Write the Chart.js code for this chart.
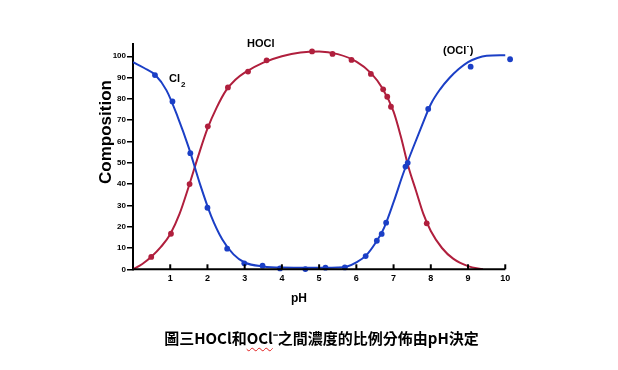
<!DOCTYPE html>
<html>
<head>
<meta charset="utf-8">
<script src="https://cdn.jsdelivr.net/npm/chart.js@4/dist/chart.umd.min.js"></script>
<style>
  body { margin: 0; background: #fff; }
  #wrap { position: relative; width: 618px; height: 370px; }
  #caption {
    position: absolute; left: 0; top: 328px; width: 643px;
    text-align: center; font: bold 15px "Noto Sans CJK TC", sans-serif;
    line-height: 20px; color: #000;
  }
  .sq { text-decoration: underline wavy #e02020; text-decoration-thickness: 1px; text-underline-offset: 3px; }
</style>
</head>
<body>
<div id="wrap">
  <canvas id="chart" width="618" height="370"></canvas>
  <div id="caption">圖三HOCl和<span class="sq">OCl</span>⁻之間濃度的比例分佈由pH決定</div>
</div>
<script>
const BLUE = '#1b3fc6';
const RED = '#b01f3d';

// smooth curves: [pH, %]
const cl2Curve = [[0, 97.2], [0.3, 94.5], [0.6, 91.2], [0.9, 84], [1.2, 71.6], [1.5, 57], [1.8, 40],
  [2.1, 25], [2.4, 14], [2.7, 7], [3.0, 3.2], [3.5, 1.3], [4.0, 0.8], [5.0, 0.7]];
const hoclCurve = [[0, 0], [0.25, 2.5], [0.5, 6], [0.75, 10.5], [1.0, 16.5], [1.25, 26], [1.5, 39],
  [1.75, 53], [2.0, 66], [2.25, 76], [2.5, 84], [2.75, 89], [3.0, 92.3], [3.5, 97], [4.0, 100],
  [4.5, 101.8], [5.0, 102.3], [5.5, 101], [6.0, 97.5], [6.4, 92], [6.7, 85], [7.0, 74], [7.2, 62],
  [7.4, 48], [7.6, 37], [7.8, 26], [8.0, 18], [8.3, 10], [8.6, 5], [9.0, 1.5], [9.4, 0]];
const oclCurve = [[5.0, 0.7], [5.5, 0.8], [5.75, 1.3], [6.0, 3.3], [6.25, 6.3], [6.5, 12], [6.75, 19.7],
  [7.0, 31.5], [7.25, 44.5], [7.5, 56], [7.75, 67], [8.0, 77.5], [8.25, 84.5], [8.5, 89.8],
  [8.75, 94], [9.0, 97.3], [9.25, 99.2], [9.5, 100.2], [10.0, 100.5]];

// measured points
const cl2Dots = [[0.59, 91.2], [1.06, 78.8], [1.54, 54.5], [2.0, 28.9], [2.53, 9.7], [2.99, 2.8],
  [3.48, 1.7], [3.95, 0.4], [4.63, 0.1]];
const hoclDots = [[0.49, 5.8], [1.02, 16.7], [1.52, 40], [2.01, 67.1], [2.55, 85.4], [3.09, 92.8],
  [3.59, 98.1], [4.81, 102.3], [5.36, 101.1], [5.87, 98.3], [6.39, 91.7], [6.72, 84.5],
  [6.83, 81], [6.93, 76.3], [7.89, 21.6]];
const oclDots = [[5.17, 0.75], [5.69, 0.9], [6.25, 6.2], [6.55, 13.4], [6.68, 16.6], [6.8, 21.9],
  [7.32, 48.2], [7.38, 50], [7.93, 75.3], [9.07, 95.1], [10.13, 98.6]];

const xTicks = [1, 2, 3, 4, 5, 6, 7, 8, 9, 10];
const X_END = 10; // axis line stops at pH 10, the scale runs a bit further so the last dot shows

const pts = (arr) => arr.map(([x, y]) => ({ x, y }));

function curve(arr, color) {
  return {
    type: 'line', data: pts(arr), borderColor: color, borderWidth: 2,
    pointRadius: 0, cubicInterpolationMode: 'monotone', fill: false
  };
}
function dots(arr, color) {
  return {
    type: 'scatter', data: pts(arr), backgroundColor: color, borderWidth: 0,
    pointRadius: 2.9, clip: false
  };
}

const textPlugin = {
  id: 'texts',
  afterDraw(chart) {
    const { ctx, scales: { x, y } } = chart;
    ctx.save();
    ctx.strokeStyle = '#000';
    ctx.lineWidth = 2;
    // pH axis line, 0..10
    ctx.beginPath();
    ctx.moveTo(x.getPixelForValue(0) - 1, y.bottom);
    ctx.lineTo(x.getPixelForValue(X_END), y.bottom);
    ctx.stroke();
    // inward tick marks on the pH axis
    x.ticks.forEach((t) => {
      if (!xTicks.includes(t.value)) return;
      const px = x.getPixelForValue(t.value);
      ctx.beginPath();
      ctx.moveTo(px, y.bottom);
      ctx.lineTo(px, y.bottom - 5);
      ctx.stroke();
    });

    ctx.fillStyle = '#000';
    ctx.textBaseline = 'middle';
    ctx.textAlign = 'center';
    ctx.font = 'bold 12px "Liberation Sans", Arial';
    ctx.fillText('pH', 299, 299);

    ctx.save();
    ctx.translate(106, 132);
    ctx.rotate(-Math.PI / 2);
    ctx.font = 'bold 17px "Liberation Sans", Arial';
    ctx.fillText('Composition', 0, 0);
    ctx.restore();

    ctx.font = 'bold 11px "Liberation Sans", Arial';
    ctx.fillText('HOCl', x.getPixelForValue(3.43), y.getPixelForValue(105.8));

    // Cl2
    ctx.textAlign = 'left';
    let px = x.getPixelForValue(0.97), py = y.getPixelForValue(89.4);
    ctx.fillText('Cl', px, py);
    const w = ctx.measureText('Cl').width;
    ctx.font = 'bold 8px "Liberation Sans", Arial';
    ctx.fillText('2', px + w + 1, py + 6);

    // (OCl-)
    ctx.font = 'bold 11px "Liberation Sans", Arial';
    px = x.getPixelForValue(8.33); py = y.getPixelForValue(102.5);
    ctx.fillText('(OCl', px, py);
    const w2 = ctx.measureText('(OCl').width;
    ctx.font = 'bold 7px "Liberation Sans", Arial';
    ctx.fillText('-', px + w2 + 0.5, py - 5);
    ctx.font = 'bold 11px "Liberation Sans", Arial';
    ctx.fillText(')', px + w2 + 3.5, py);
    ctx.restore();
  }
};

new Chart(document.getElementById('chart'), {
  data: {
    datasets: [
      dots(cl2Dots, BLUE),
      dots(hoclDots, RED),
      dots(oclDots, BLUE),
      curve(cl2Curve, BLUE),
      curve(hoclCurve, RED),
      curve(oclCurve, BLUE)
    ]
  },
  options: {
    responsive: false,
    animation: false,
    layout: { padding: { left: 0, right: 105.3, top: 43.5, bottom: 70.7 } },
    plugins: { legend: { display: false }, tooltip: { enabled: false } },
    scales: {
      x: {
        type: 'linear', min: 0, max: 10.2,
        afterFit: (s) => { s.height = 30; },
        border: { display: false },
        grid: { drawOnChartArea: false, drawTicks: false },
        ticks: {
          stepSize: 1, includeBounds: false, padding: 4, color: '#000',
          font: { size: 9, weight: 'bold', family: '"Liberation Sans", Arial' },
          callback: (v) => (xTicks.includes(v) ? v : '')
        }
      },
      y: {
        type: 'linear', min: 0, max: 106,
        afterFit: (s) => { s.width = 133; },
        border: { color: '#000', width: 2 },
        grid: { drawOnChartArea: false, drawTicks: true, tickLength: 6, color: '#000', lineWidth: 1.5 },
        ticks: {
          stepSize: 10, includeBounds: false, padding: 1, color: '#000',
          font: { size: 8, weight: 'bold', family: '"Liberation Sans", Arial' }
        }
      }
    }
  },
  plugins: [textPlugin]
});
</script>
</body>
</html>
